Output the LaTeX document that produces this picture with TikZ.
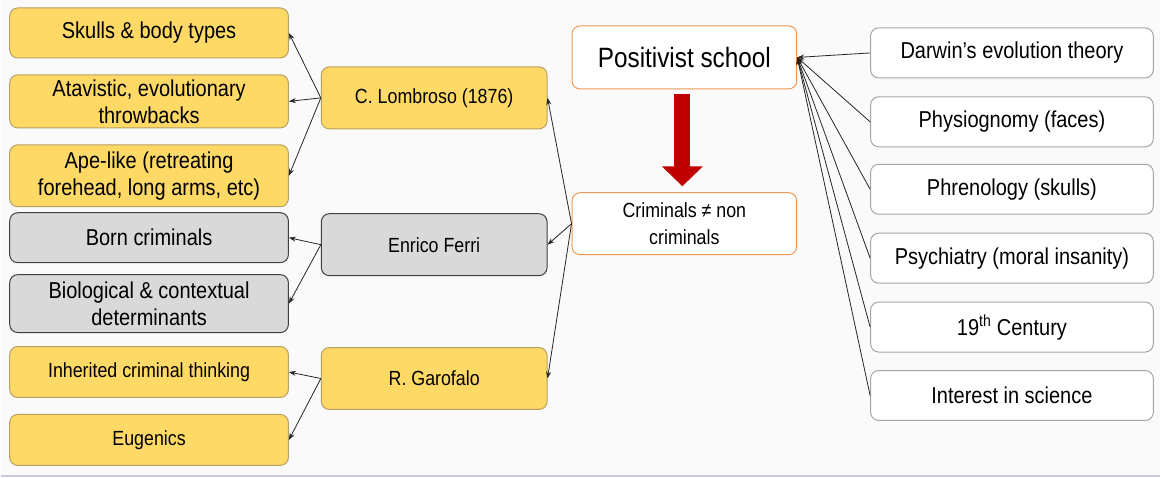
\documentclass[tikz,border=0pt]{standalone}
\usepackage{fontspec}
\setmainfont{Liberation Sans}[FakeStretch=0.87]
\usetikzlibrary{arrows.meta}

\definecolor{goldfill}{HTML}{FFD966}
\definecolor{goldline}{HTML}{B8A060}
\definecolor{greyfill}{HTML}{D9D9D9}
\definecolor{greyline}{HTML}{404040}
\definecolor{orangeline}{HTML}{EE9A55}
\definecolor{plainline}{HTML}{A6A6A6}
\definecolor{darkred}{HTML}{C00000}
\definecolor{linkcol}{HTML}{262626}
\definecolor{pagebg}{HTML}{FAFAFA}

\begin{document}
\begin{tikzpicture}[x=1pt, y=-1pt,
  box/.style={rounded corners=8pt, inner sep=0pt, align=center, line width=1pt, font=\fontsize{23}{27}\selectfont},
  gold/.style={box, fill=goldfill, draw=goldline},
  grey/.style={box, fill=greyfill, draw=greyline},
  school/.style={box, fill=white, draw=orangeline, minimum width=225pt, minimum height=62pt},
  cause/.style={box, fill=white, draw=plainline, minimum width=283pt, minimum height=50pt},
  leftbox/.style={minimum width=279pt},
  midbox/.style={minimum width=226pt, minimum height=62pt, font=\fontsize{20.5}{27}\selectfont},
  small/.style={font=\fontsize{20.5}{27}\selectfont},
  link/.style={draw=linkcol, line width=0.8pt, -{Stealth[length=7pt, width=5pt]}},
  bigarrow/.style={draw=darkred, line width=16pt, -{Triangle[length=20pt, width=40pt]}}]
        % page
        \fill[pagebg] (0, 0) rectangle (1161, 478);
        \draw[color={rgb,255:red,200;green,200;blue,212}, line width=1.5pt] (0, 476.5) -- (1161, 476.5);
        % left column
        \node[gold, leftbox, minimum height=50pt] (skull) at (148.5, 33) {Skulls \& body types};
        \node[gold, leftbox, minimum height=53pt] (atav) at (148.5, 101.5) {Atavistic, evolutionary\\throwbacks};
        \node[gold, leftbox, minimum height=62pt] (ape) at (148.5, 176) {Ape-like (retreating\\forehead, long arms, etc)};
        \node[grey, leftbox, minimum height=50pt] (born) at (148.5, 238) {Born criminals};
        \node[grey, leftbox, minimum height=58pt] (bio) at (148.5, 304) {Biological \& contextual\\determinants};
        \node[gold, leftbox, small, minimum height=51pt] (inher) at (148.5, 372.5) {Inherited criminal thinking};
        \node[gold, leftbox, small, minimum height=51pt] (eugen) at (148.5, 440.5) {Eugenics};
        % middle column
        \node[gold, midbox] (lomb) at (434, 98) {C. Lombroso (1876)};
        \node[grey, midbox] (ferri) at (434, 245) {Enrico Ferri};
        \node[gold, midbox] (garo) at (434, 379) {R. Garofalo};
        % school
        \node[school, font=\fontsize{28}{32}\selectfont, minimum height=63pt] (pos) at (684.5, 57.5) {Positivist school};
        \node[school, small] (crim) at (684.5, 224) {Criminals ≠ non\\criminals};
        % right column
        \node[cause] (darwin) at (1012.5, 53) {Darwin’s evolution theory};
        \node[cause] (physio) at (1012.5, 122) {Physiognomy (faces)};
        \node[cause] (phren) at (1012.5, 189.5) {Phrenology (skulls)};
        \node[cause] (psych) at (1012.5, 258.5) {Psychiatry (moral insanity)};
        \node[cause] (cent) at (1012.5, 327.5) {19\textsuperscript{th} Century};
        \node[cause] (sci) at (1012.5, 396) {Interest in science};
        % connectors
        \draw[bigarrow] ([xshift=-2pt, yshift=-5pt]pos.south) -- ([xshift=-2pt, yshift=6pt]crim.north);
        \draw[link] (darwin.west) -- (pos.east);
        \draw[link] (physio.west) -- (pos.east);
        \draw[link] (phren.west) -- (pos.east);
        \draw[link] (psych.west) -- (pos.east);
        \draw[link] (cent.west) -- (pos.east);
        \draw[link] (sci.west) -- (pos.east);
        \draw[link] (crim.west) -- (lomb.east);
        \draw[link] (crim.west) -- (ferri.east);
        \draw[link] (crim.west) -- (garo.east);
        \draw[link] (lomb.west) -- (skull.east);
        \draw[link] (lomb.west) -- (atav.east);
        \draw[link] (lomb.west) -- (ape.east);
        \draw[link] (ferri.west) -- (born.east);
        \draw[link] (ferri.west) -- (bio.east);
        \draw[link] (garo.west) -- (inher.east);
        \draw[link] (garo.west) -- (eugen.east);
\end{tikzpicture}
\end{document}
